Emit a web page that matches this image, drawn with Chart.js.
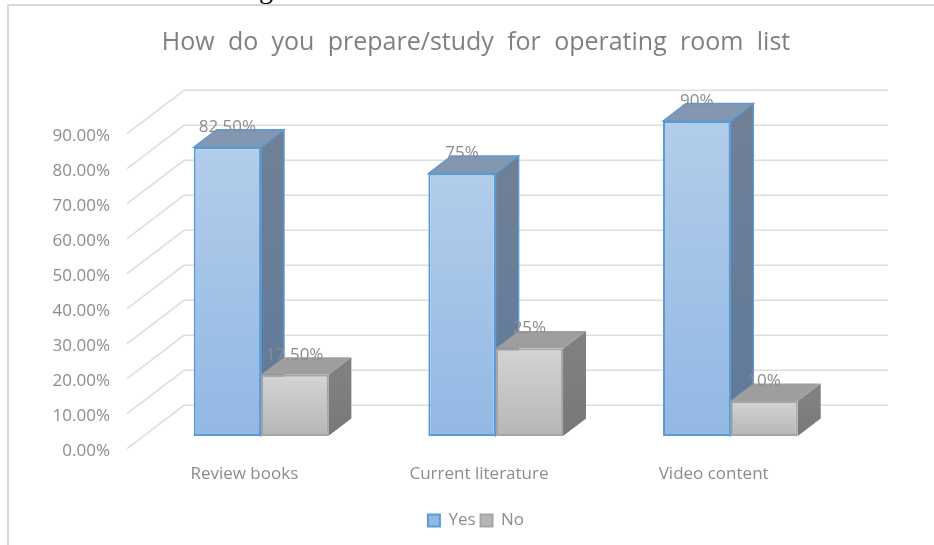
<!DOCTYPE html>
<html>
<head>
<meta charset="utf-8">
<title>How do you prepare/study for operating room list</title>
<script src="https://cdn.jsdelivr.net/npm/chart.js@4"></script>
<style>
    html, body { margin: 0; padding: 0; background: #fff; }
    #wrap { position: relative; width: 934px; height: 545px; overflow: hidden; }
    #frame { position: absolute; left: 7px; top: 4px; right: -5px; bottom: -5px; border-left: 2px solid #d9d9d9; border-top: 2px solid #d9d9d9; }
    #caption { position: absolute; left: 259px; top: -27px; font: 28px "Liberation Serif", serif; color: #000; }
    canvas { position: absolute; left: 0; top: 0; }
</style>
</head>
<body>
<div id="wrap">
    <div id="caption">g</div>
    <div id="frame"></div>
    <canvas id="prepChart" width="934" height="545"></canvas>
</div>
<script>
const categories = ['Review books', 'Current literature', 'Video content'];
const yesValues = [82.5, 75, 90];
const noValues = [17.5, 25, 10];
const yesLabels = ['82.50%', '75%', '90%'];
const noLabels = ['17.50%', '25%', '10%'];

const fontFamily = '"Open Sans", sans-serif';
const textColor = '#8c8c8c';
// how far the 3D bars stick out, in px
const barDepthX = 23;
const barDepthY = 17.5;

// each bar gets its own top to bottom gradient, legend gets the flat colour
function faceGradient(c, top, bottom, flat) {
    if (!c.chart.chartArea || !c.parsed) return flat;
    const y = c.chart.scales.y;
    const g = c.chart.ctx.createLinearGradient(0, y.getPixelForValue(c.parsed.y), 0, y.getPixelForValue(0));
    g.addColorStop(0, top);
    g.addColorStop(1, bottom);
    return g;
}

function poly(ctx, pts, fill, stroke) {
    ctx.beginPath();
    pts.forEach((p, i) => i ? ctx.lineTo(p[0], p[1]) : ctx.moveTo(p[0], p[1]));
    ctx.closePath();
    ctx.fillStyle = fill;
    ctx.fill();
    if (stroke) {
        ctx.strokeStyle = stroke;
        ctx.lineWidth = 1.3;
        ctx.stroke();
    }
}

// the title has wider word gaps than the font gives, only the title gets this
const titleSpacingPlugin = {
    id: 'titleSpacing',
    beforeDraw(chart) {
        const block = chart.titleBlock;
        if (block._spaced) return;
        const draw = block.draw;
        block.draw = function() {
            chart.ctx.wordSpacing = '6.8px';
            draw.call(block);
            chart.ctx.wordSpacing = '0px';
        };
        block._spaced = true;
    }
};

// y labels run past the left padding, widen the scale box so they don't get clipped
const labelRoomPlugin = {
    id: 'labelRoom',
    afterLayout(chart) {
        chart.scales.y.left = 0;
    }
};

// back wall lines + the floor diagonals
const wallPlugin = {
    id: 'wall',
    beforeDatasetsDraw(chart) {
        const { ctx, chartArea, scales } = chart;
        ctx.save();
        ctx.strokeStyle = '#dedede';
        ctx.lineWidth = 1.6;
        scales.y.ticks.forEach(t => {
            const y = scales.y.getPixelForValue(t.value);
            ctx.beginPath();
            ctx.moveTo(chartArea.left - 16.7, y + 12.7);
            ctx.lineTo(chartArea.left + 40.3, y - 30.7);
            ctx.lineTo(chartArea.right + 40.3, y - 30.7);
            ctx.stroke();
        });
        ctx.restore();
    }
};

// side and top faces go under the native bars (the front faces)
const depthPlugin = {
    id: 'depth',
    beforeDatasetsDraw(chart) {
        const { ctx, scales } = chart;
        const base = scales.y.getPixelForValue(0);
        const styles = [
            { top: '#8497b0', sideTop: '#6f8096', sideBottom: '#5f7a9c', line: '#5b9bd5' },
            { top: '#9e9e9e', sideTop: '#808080', sideBottom: '#787878', line: '#a5a5a5' }
        ];
        ctx.save();
        chart.data.datasets.forEach((ds, i) => {
            const st = styles[i];
            chart.getDatasetMeta(i).data.forEach(bar => {
                const l = bar.x - bar.width / 2;
                const r = bar.x + bar.width / 2;
                const t = bar.y;
                const grad = ctx.createLinearGradient(0, t, 0, base);
                grad.addColorStop(0, st.sideTop);
                grad.addColorStop(1, st.sideBottom);
                poly(ctx, [[r, t], [r + barDepthX, t - barDepthY], [r + barDepthX, base - barDepthY], [r, base]], grad, i ? null : st.line);
                poly(ctx, [[l, t], [l + barDepthX, t - barDepthY], [r + barDepthX, t - barDepthY], [r, t]], st.top, i ? null : st.line);
            });
        });
        ctx.restore();
    }
};

const valueLabelPlugin = {
    id: 'valueLabels',
    afterDatasetsDraw(chart) {
        const { ctx } = chart;
        ctx.save();
        ctx.font = '17px ' + fontFamily;
        ctx.fillStyle = textColor;
        ctx.textAlign = 'center';
        ctx.textBaseline = 'middle';
        [yesLabels, noLabels].forEach((labels, i) => {
            chart.getDatasetMeta(i).data.forEach((bar, j) => {
                ctx.fillText(labels[j], bar.x, bar.y - 20);
            });
        });
        ctx.restore();
    }
};

new Chart(document.getElementById('prepChart'), {
    type: 'bar',
    data: {
        labels: categories,
        datasets: [
            {
                label: 'Yes',
                data: yesValues,
                backgroundColor: c => faceGradient(c, '#b2cdea', '#92b8e4', '#a9c5e8'),
                borderColor: '#5b9bd5',
                borderWidth: 2,
                borderSkipped: false
            },
            {
                label: 'No',
                data: noValues,
                backgroundColor: c => faceGradient(c, '#d4d4d4', '#b6b6b6', '#c4c4c4'),
                borderColor: '#a5a5a5',
                borderWidth: 2,
                borderSkipped: false
            }
        ]
    },
    options: {
        responsive: false,
        animation: false,
        // left is bigger than right so title and legend centre around x=476
        layout: { padding: { left: 104.3, right: 86.3, bottom: 6 } },
        datasets: { bar: { categoryPercentage: 0.574, barPercentage: 1 } },
        scales: {
            x: {
                grid: { display: false, drawTicks: false },
                border: { display: false },
                afterFit(scale) { scale.height = 71; },
                ticks: {
                    color: textColor,
                    font: { family: fontFamily, size: 17 },
                    padding: 28,
                    labelOffset: -16.7,
                    maxRotation: 0
                }
            },
            y: {
                min: 0,
                max: 90,
                grid: { display: false, drawTicks: false },
                border: { display: false },
                afterFit(scale) { scale.width = 39.4; },
                ticks: {
                    stepSize: 10,
                    color: textColor,
                    font: { family: fontFamily, size: 17 },
                    padding: 33.7,
                    labelOffset: 15,
                    callback: v => v.toFixed(2) + '%'
                }
            }
        },
        plugins: {
            title: {
                display: true,
                text: 'How do you prepare/study for operating room list',
                color: '#808080',
                font: { family: fontFamily, size: 25, weight: 'normal' },
                padding: { top: 28, bottom: 63 }
            },
            legend: {
                position: 'bottom',
                labels: {
                    color: textColor,
                    font: { family: fontFamily, size: 17 },
                    boxWidth: 12,
                    boxHeight: 12,
                    padding: 5
                }
            },
            tooltip: { enabled: false }
        }
    },
    plugins: [titleSpacingPlugin, labelRoomPlugin, wallPlugin, depthPlugin, valueLabelPlugin]
});
</script>
</body>
</html>
